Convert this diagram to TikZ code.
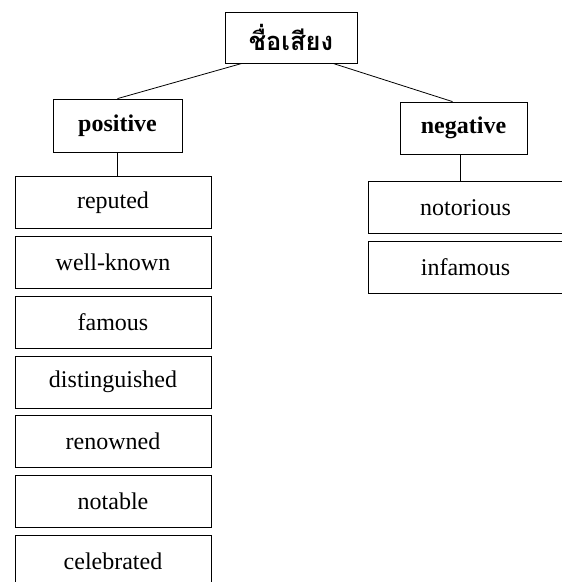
\documentclass[tikz,border=0pt]{standalone}
\usepackage{fontspec}
\setmainfont{Liberation Serif}
\newfontfamily\thaifont[Script=Thai]{Loma}
\usepackage{tikz}
\usetikzlibrary{positioning,calc}

\begin{document}
\begin{tikzpicture}[
    x=1pt, y=1pt,
    node distance=7pt,
    font=\fontsize{24}{27}\selectfont,
    box/.style={rectangle, draw=black, line width=0.8pt, inner sep=0pt, align=center, fill=white},
    word/.style={box, minimum width=196pt, minimum height=52pt},
    header/.style={box, font=\fontsize{24}{27}\selectfont\bfseries, minimum width=129pt, minimum height=53pt},
    link/.style={draw=black, line width=0.8pt}
]
    \useasboundingbox (0,0) rectangle (562,-582);

    % Root
    \node[header, minimum width=132pt, minimum height=51pt] (root) at (291,-37.5) {\thaifont\fontsize{25.5}{28}\selectfont\bfseries ชื่อเสียง};

    % Positive branch
    \node[header] (pos) at (117.5,-125.5) {positive};
    \node[word] (reputed) at (113,-202.5) {reputed};
    \node[word, below=of reputed] (wellknown) {well-known};
    \node[word, below=of wellknown] (famous) {famous};
    \node[word, below=of famous] (distinguished) {distinguished};
    \node[word, below=of distinguished] (renowned) {renowned};
    \node[word, below=of renowned] (notable) {notable};
    \node[word, below=of notable] (celebrated) {celebrated};

    % Negative branch
    \node[header, minimum width=127pt, minimum height=52pt] (neg) at (463.5,-128) {negative};
    \node[word, minimum width=195pt] (notorious) at (465.5,-207.5) {notorious};
    \node[word, minimum width=195pt, below=of notorious] (infamous) {infamous};

    % Connectors
    \draw[link] ([xshift=-49pt]root.south) -- (pos.north);
    \draw[link] ([xshift=42pt]root.south) -- ([xshift=-11pt]neg.north);
    \draw[link] (pos.south) -- (pos.south |- reputed.north);
    \draw[link] ([xshift=-3pt]neg.south) -- ([xshift=-3pt]neg.south |- notorious.north);
\end{tikzpicture}
\end{document}
